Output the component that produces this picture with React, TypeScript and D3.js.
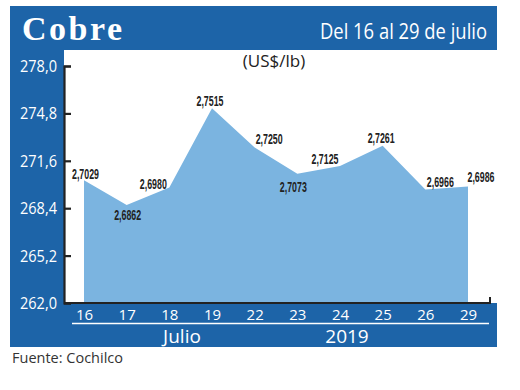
import * as d3 from 'd3';
import { useEffect, useRef } from 'react';

// julio 2019, cents per lb
const days = ['16', '17', '18', '19', '22', '23', '24', '25', '26', '29'];
const prices = [270.29, 268.62, 269.8, 275.15, 272.5, 270.73, 271.25, 272.61, 269.66, 269.86];
const yTicks = [262.0, 265.2, 268.4, 271.6, 274.8, 278.0];

// label placement around each point [dx, dy]
const labelOffsets = [
  [1.5, -1], [1, 15], [-16, 2], [-2, -2], [14.5, -3],
  [-4, 18], [-15, -2], [-1.5, -3], [15, -3], [13, -5],
];

const DARK = '#1d64a8';
const AREA = '#7bb4e0';
const INK = '#222';

const App = () => {
  const ref = useRef<SVGSVGElement>(null);

  useEffect(() => {
    const svg = d3.select(ref.current);
    svg.selectAll('*').remove();

    const locale = d3.formatLocale({ decimal: ',', thousands: '.', grouping: [3], currency: ['US$', ''] });
    const fmtTick = locale.format('.1f');
    const fmtLabel = locale.format('.4f');

    const x = d3.scalePoint().domain(days).range([84, 468]);
    const y = d3.scaleLinear().domain([262, 278]).range([303, 66]);

    // frame
    svg.append('rect').attr('x', 10).attr('y', 6).attr('width', 487).attr('height', 341).attr('fill', DARK);
    svg.append('rect').attr('x', 64).attr('y', 50).attr('width', 433).attr('height', 253).attr('fill', '#fff');

    svg.append('text')
      .attr('x', 22).attr('y', 40)
      .attr('font-family', '"Liberation Serif", serif').attr('font-weight', 'bold')
      .attr('font-size', 34).attr('fill', '#fff')
      .attr('textLength', 100).attr('lengthAdjust', 'spacing')
      .text('Cobre');

    svg.append('text')
      .attr('x', 487).attr('y', 38.5).attr('text-anchor', 'end')
      .attr('font-family', '"Open Sans", sans-serif').attr('font-size', 22).attr('fill', '#fff')
      .attr('textLength', 167).attr('lengthAdjust', 'spacingAndGlyphs')
      .text('Del 16 al 29 de julio');

    svg.append('text')
      .attr('x', 274).attr('y', 67).attr('text-anchor', 'middle')
      .attr('font-family', '"Open Sans", sans-serif').attr('font-size', 17).attr('fill', INK)
      .text('(US$/lb)');

    // area
    const area = d3.area<number>()
      .x((d, i) => x(days[i]))
      .y0(y(262))
      .y1((d) => y(d));
    svg.append('path').datum(prices).attr('fill', AREA).attr('d', area);

    // value labels
    svg.append('g')
      .selectAll('text')
      .data(prices)
      .join('text')
      .attr('x', (d, i) => x(days[i]) + labelOffsets[i][0])
      .attr('y', (d, i) => y(d) + labelOffsets[i][1])
      .attr('text-anchor', 'middle')
      .attr('font-family', '"Liberation Sans", sans-serif').attr('font-weight', 'bold')
      .attr('font-size', 14.5).attr('fill', INK)
      .attr('textLength', 27).attr('lengthAdjust', 'spacingAndGlyphs')
      .text((d) => fmtLabel(d / 100));

    // y axis
    const yAxis = svg.append('g')
      .attr('transform', 'translate(64,0)')
      .call(d3.axisLeft(y).tickValues(yTicks).tickFormat(fmtTick).tickSize(-7).tickSizeOuter(-7).tickPadding(7));
    yAxis.selectAll('line, path').attr('stroke', INK).attr('stroke-width', 2.2);
    yAxis.selectAll('text')
      .attr('fill', '#fff').attr('font-size', 17).attr('font-family', '"Open Sans", sans-serif')
      .attr('textLength', 37).attr('lengthAdjust', 'spacingAndGlyphs');

    // bottom axis line
    svg.append('path')
      .attr('d', `M64,303H490V297`)
      .attr('fill', 'none').attr('stroke', INK).attr('stroke-width', 2);

    // x axis
    const xAxis = svg.append('g')
      .attr('transform', 'translate(0,305)')
      .call(d3.axisBottom(x).tickSize(0).tickPadding(4));
    xAxis.select('.domain').remove();
    xAxis.selectAll('text')
      .attr('fill', '#fff').attr('font-size', 15).attr('font-family', '"Open Sans", sans-serif');

    svg.append('line')
      .attr('x1', 72).attr('x2', 489).attr('y1', 323.5).attr('y2', 323.5)
      .attr('stroke', '#fff').attr('stroke-width', 1.5);

    svg.append('text')
      .attr('x', 182).attr('y', 343).attr('text-anchor', 'middle')
      .attr('font-family', '"Open Sans", sans-serif').attr('font-size', 19).attr('fill', '#fff')
      .text('Julio');
    svg.append('text')
      .attr('x', 347).attr('y', 343).attr('text-anchor', 'middle')
      .attr('font-family', '"Open Sans", sans-serif').attr('font-size', 19).attr('fill', '#fff')
      .text('2019');

    svg.append('text')
      .attr('x', 12).attr('y', 363)
      .attr('font-family', '"Open Sans", sans-serif').attr('font-size', 14.5).attr('fill', '#333')
      .text('Fuente: Cochilco');
  }, []);

  return <svg ref={ref} width={520} height={390} style={{ position: 'absolute', left: 0, top: 0 }} />;
};

export default App;
